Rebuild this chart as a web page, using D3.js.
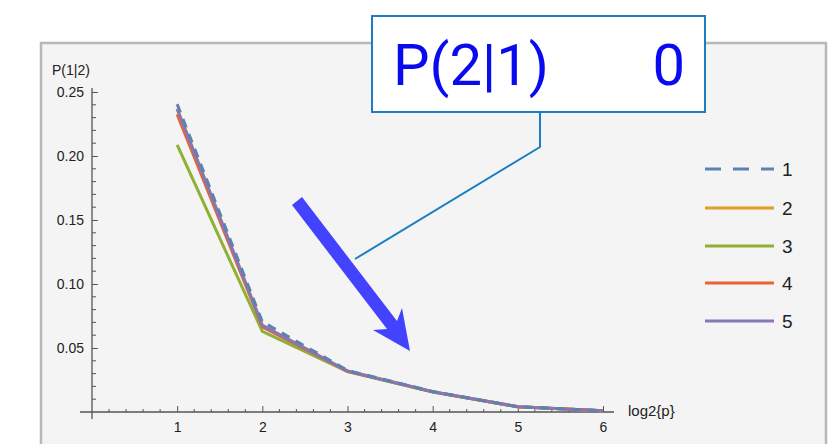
<!DOCTYPE html>
<html>
<head>
<meta charset="utf-8">
<script src="https://cdn.jsdelivr.net/npm/d3@7"></script>
<style>
  body { margin: 0; background: #fff; }
  svg { display: block; font-family: "Liberation Sans", Arial, sans-serif; }
</style>
</head>
<body>
<svg id="chart" width="835" height="444"></svg>
<script>
// data
var xValues = [1, 2, 3, 4, 5, 6];
var seriesNames = ["1", "2", "3", "4", "5"];
var series1 = [0.2405, 0.0705, 0.0325, 0.0160, 0.0042, 0.0010];
var series2 = [0.2370, 0.0680, 0.0320, 0.0158, 0.0041, 0.0010];
var series3 = [0.2086, 0.0630, 0.0315, 0.0156, 0.0040, 0.0010];
var series4 = [0.2325, 0.0665, 0.0318, 0.0157, 0.0041, 0.0010];
var series5 = [0.2365, 0.0675, 0.0320, 0.0158, 0.0041, 0.0010];
var seriesColors = ["#5e81b5", "#e19c24", "#8fb032", "#eb6235", "#8778b3"];
var yTicks = [0.05, 0.10, 0.15, 0.20, 0.25];
var xTicks = [1, 2, 3, 4, 5, 6];
var calloutLabel = "P(2|1)";
var calloutValue = "0";

var svg = d3.select("#chart");

// gray panel
svg.append("rect")
    .attr("x", 41).attr("y", 43)
    .attr("width", 785).attr("height", 420)
    .attr("fill", "#f4f4f4")
    .attr("stroke", "#b8b8b8")
    .attr("stroke-width", 2.5);

var x = d3.scaleLinear().domain([0, 6]).range([92, 603]);
var y = d3.scaleLinear().domain([0, 0.25]).range([412, 92]);

var axisColor = "#555";

// minor ticks
var xMinor = d3.range(0.2, 6.01, 0.2).filter(function(d) { return Math.abs(d - Math.round(d)) > 0.01; });
svg.append("g").selectAll("line").data(xMinor).enter().append("line")
    .attr("x1", function(d) { return x(d); }).attr("x2", function(d) { return x(d); })
    .attr("y1", 412).attr("y2", 409)
    .attr("stroke", axisColor).attr("stroke-width", 1);
var yMinor = d3.range(0.01, 0.2501, 0.01).filter(function(d) { return Math.abs(d * 20 - Math.round(d * 20)) > 0.01; });
svg.append("g").selectAll("line").data(yMinor).enter().append("line")
    .attr("x1", 92).attr("x2", 96)
    .attr("y1", function(d) { return y(d); }).attr("y2", function(d) { return y(d); })
    .attr("stroke", axisColor).attr("stroke-width", 1);

// major ticks + axes via d3 axes
var xAxis = svg.append("g")
    .attr("transform", "translate(0,412)")
    .call(d3.axisBottom(x).tickValues(xTicks).tickSizeInner(-6).tickSizeOuter(0).tickPadding(10).tickFormat(d3.format("d")));
xAxis.select(".domain").remove();
xAxis.selectAll(".tick line").attr("stroke", axisColor);
xAxis.selectAll("text").attr("font-size", 14).attr("fill", "#222");

var yAxis = svg.append("g")
    .attr("transform", "translate(92,0)")
    .call(d3.axisLeft(y).tickValues(yTicks).tickSizeInner(-6).tickSizeOuter(0).tickPadding(8).tickFormat(d3.format(".2f")));
yAxis.select(".domain").remove();
yAxis.selectAll(".tick line").attr("stroke", axisColor);
yAxis.selectAll("text").attr("font-size", 14).attr("fill", "#222");

// axis lines
svg.append("line").attr("x1", 80).attr("x2", 614).attr("y1", 412).attr("y2", 412)
    .attr("stroke", axisColor).attr("stroke-width", 1.3);
svg.append("line").attr("x1", 92).attr("x2", 92).attr("y1", 88).attr("y2", 419)
    .attr("stroke", axisColor).attr("stroke-width", 1.3);

// axis titles
svg.append("text").attr("x", 52).attr("y", 75).attr("font-size", 14).attr("fill", "#222").text("P(1|2)");
svg.append("text").attr("x", 628).attr("y", 416).attr("font-size", 15).attr("fill", "#222").text("log2{p}");

// series lines, drawn last-first so the dashed one stays on top
var allSeries = [series1, series2, series3, series4, series5];
var line = d3.line()
    .x(function(d, i) { return x(xValues[i]); })
    .y(function(d) { return y(d); });
var order = [1, 2, 3, 4, 0];
svg.append("g").selectAll("path").data(order).enter().append("path")
    .attr("d", function(k) { return line(allSeries[k]); })
    .attr("fill", "none")
    .attr("stroke", function(k) { return seriesColors[k]; })
    .attr("stroke-width", 3)
    .attr("stroke-dasharray", function(k) { return k === 0 ? "9,7" : null; });

// legend
var legendY = [169, 208, 246, 283, 321];
var legend = svg.append("g");
seriesNames.forEach(function(name, i) {
    legend.append("line")
        .attr("x1", 705).attr("x2", 774)
        .attr("y1", legendY[i]).attr("y2", legendY[i])
        .attr("stroke", seriesColors[i]).attr("stroke-width", 3)
        .attr("stroke-dasharray", i === 0 ? "16,12" : null);
    legend.append("text")
        .attr("x", 782).attr("y", legendY[i] + 7)
        .attr("font-size", 19).attr("fill", "#222")
        .text(name);
});

// big arrow
svg.append("polygon")
    .attr("points", "292,205 302,197 397,321 402,308 410,351 373,330 387,329")
    .attr("fill", "#4343ff");

// callout leader line
svg.append("polyline")
    .attr("points", "540,112 540,147 355,259")
    .attr("fill", "none")
    .attr("stroke", "#1a7fc1")
    .attr("stroke-width", 2);

// callout box
svg.append("rect")
    .attr("x", 372).attr("y", 16)
    .attr("width", 333).attr("height", 96)
    .attr("fill", "#fff")
    .attr("stroke", "#1a7fc1")
    .attr("stroke-width", 2);
svg.append("text")
    .attr("x", 393).attr("y", 85)
    .attr("font-family", "Roboto, sans-serif")
    .attr("font-size", 58)
    .attr("fill", "#0a0af0")
    .text(calloutLabel);
svg.append("text")
    .attr("x", 685).attr("y", 85)
    .attr("text-anchor", "end")
    .attr("font-family", "Roboto, sans-serif")
    .attr("font-size", 58)
    .attr("fill", "#0a0af0")
    .text(calloutValue);
</script>
</body>
</html>
